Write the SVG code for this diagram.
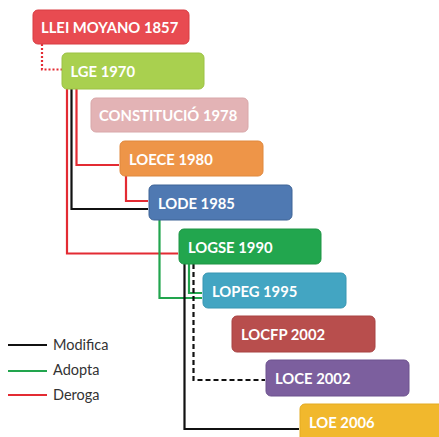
<svg xmlns="http://www.w3.org/2000/svg" width="439" height="437" viewBox="0 0 439 437">
  <style>
    .box { stroke-width: 1; }
    .lbl { font-family: Lato, "Open Sans", "Liberation Sans", sans-serif; font-weight: bold; font-size: 14.8px; fill: #ffffff; }
    .leg { font-family: Lato, "Open Sans", "Liberation Sans", sans-serif; font-size: 14.5px; fill: #333333; }
    .c { fill: none; stroke-width: 2.2; stroke-linejoin: miter; }
    .mod { stroke: #111111; }
    .ado { stroke: #22a54e; }
    .der { stroke: #e32b33; }
    .dash { stroke-dasharray: 5 3; }
    .dot { stroke-dasharray: 2 2; }
  </style>
  <rect width="439" height="437" fill="#ffffff"/>

  <!-- connectors -->
  <g id="connectors">
    <path class="c der dot" d="M42 44 V69.5 H62"/>
    <path class="c der" d="M67 89 V253.5 H178"/>
    <path class="c mod" d="M71.5 89 V209 H148"/>
    <path class="c der" d="M76.5 89 V165 H119"/>
    <path class="c der" d="M126 176 V201 H148"/>
    <path class="c ado" d="M159.5 220 V298 H202"/>
    <path class="c mod" d="M184.5 264 V429 H299"/>
    <path class="c ado" d="M189 264 V293 H202"/>
    <path class="c mod dash" d="M193.5 264 V380 H265"/>
  </g>

  <g id="moyano">
    <rect class="box" x="33" y="10" width="156" height="34" rx="5" fill="#e84b51" stroke="#d83c42"/>
    <text class="lbl" x="41" y="33">LLEI MOYANO 1857</text>
  </g>
  <g id="lge">
    <rect class="box" x="62" y="53" width="142" height="36" rx="5" fill="#a9d04f" stroke="#9cc244"/>
    <text class="lbl" x="70.5" y="77">LGE 1970</text>
  </g>
  <g id="constitucio">
    <rect class="box" x="91" y="98" width="157" height="34" rx="5" fill="#e3b3b5" stroke="#d8a7a9"/>
    <text class="lbl" x="99" y="121">CONSTITUCIÓ 1978</text>
  </g>
  <g id="loece">
    <rect class="box" x="120" y="141" width="143" height="35" rx="5" fill="#ee9548" stroke="#e0883d"/>
    <text class="lbl" x="129" y="165">LOECE 1980</text>
  </g>
  <g id="lode">
    <rect class="box" x="149" y="185" width="143" height="35" rx="5" fill="#4f79b2" stroke="#3f6496"/>
    <text class="lbl" x="158" y="209">LODE 1985</text>
  </g>
  <g id="logse">
    <rect class="box" x="179" y="229" width="142" height="35" rx="5" fill="#22a64e" stroke="#1e9545"/>
    <text class="lbl" x="188" y="253">LOGSE 1990</text>
  </g>
  <g id="lopeg">
    <rect class="box" x="203" y="273" width="143" height="35" rx="5" fill="#43a5c2" stroke="#3896b2"/>
    <text class="lbl" x="212" y="297">LOPEG 1995</text>
  </g>
  <g id="locfp">
    <rect class="box" x="232" y="316" width="143" height="36" rx="5" fill="#b84e4d" stroke="#a84343"/>
    <text class="lbl" x="241" y="340">LOCFP 2002</text>
  </g>
  <g id="loce">
    <rect class="box" x="266" y="360" width="143" height="36" rx="5" fill="#7c5f9e" stroke="#6d528e"/>
    <text class="lbl" x="275" y="384">LOCE 2002</text>
  </g>
  <g id="loe">
    <rect class="box" x="300" y="404" width="145" height="40" rx="5" fill="#f1b82d" stroke="#e3aa22"/>
    <text class="lbl" x="309" y="428">LOE 2006</text>
  </g>

  <!-- legend -->
  <g id="legend">
    <line x1="8" y1="345" x2="47" y2="345" stroke="#111111" stroke-width="2.2"/>
    <text class="leg" x="53" y="350">Modifica</text>
    <line x1="8" y1="371" x2="47" y2="371" stroke="#22a54e" stroke-width="2.2"/>
    <text class="leg" x="53" y="375">Adopta</text>
    <line x1="8" y1="395" x2="47" y2="395" stroke="#e32b33" stroke-width="2.2"/>
    <text class="leg" x="53" y="400">Deroga</text>
  </g>
</svg>
